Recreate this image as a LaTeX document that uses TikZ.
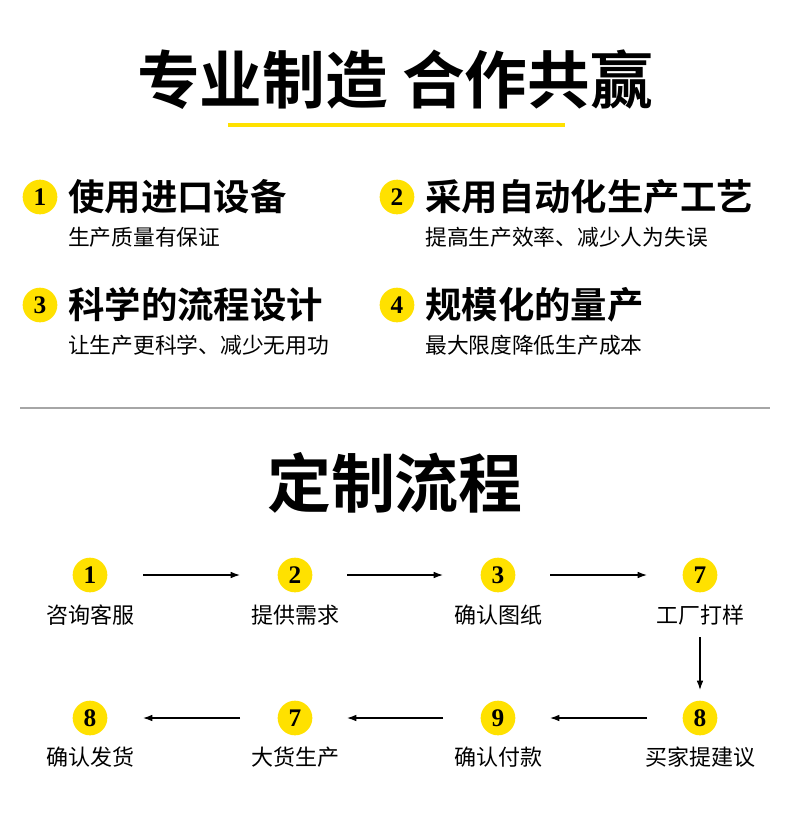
\documentclass[tikz,border=0pt]{standalone}
\usepackage{fontspec}
\usetikzlibrary{arrows.meta}
\setmainfont{Liberation Serif}
\newfontfamily\cjk{Noto Sans CJK SC}
\newfontfamily\cjkb{Noto Sans CJK SC}[BoldFont={* Bold}]
\definecolor{yel}{HTML}{FFE100}
\begin{document}
\begin{tikzpicture}[x=0.75pt,y=-0.75pt,
  num/.style={circle,fill=yel,minimum size=26pt,inner sep=0pt,font=\fontsize{19}{19}\selectfont\bfseries},
  head/.style={anchor=west,inner sep=0pt,font=\cjkb\bfseries\fontsize{27.3}{27}\selectfont},
  sub/.style={anchor=west,inner sep=0pt,font=\cjk\fontsize{16.3}{16}\selectfont},
  lab/.style={inner sep=0pt,font=\cjk\fontsize{16.5}{17}\selectfont},
  arr/.style={-{Latex[length=7pt,width=5pt]},line width=0.9pt}]
\useasboundingbox (0,0) rectangle (790,819);
\fill[white] (0,0) rectangle (790,819);
\node[inner sep=0pt,font=\cjkb\bfseries\fontsize{47}{47}\selectfont] (t1) at (395,80) {专业制造\ 合作共赢};
\draw[yel,line width=3pt] (228,125) -- (565,125);
% items
\foreach \n/\x/\y/\h/\s in {1/40/197/使用进口设备/生产质量有保证,
  2/397/197/采用自动化生产工艺/提高生产效率、减少人为失误,
  3/40/305/科学的流程设计/让生产更科学、减少无用功,
  4/397/305/规模化的量产/最大限度降低生产成本}{
  \node[num] (c\n) at (\x,\y) {\n};
  \node[head] (h\n) at (\x+28,\y) {\h};
  \node[sub] (s\n) at (\x+28,\y+40) {\s};
}
\draw[gray!70,line width=1pt] (20,408) -- (770,408);
\node[inner sep=0pt,font=\cjkb\bfseries\fontsize{48}{48}\selectfont] (t2) at (395,483) {定制流程};
% flow
\node[num] (a1) at (90,575) {1};  \node[lab] (la1) at (90,615) {咨询客服};
\node[num] (a2) at (295,575) {2}; \node[lab] (la2) at (295,615) {提供需求};
\node[num] (a3) at (498,575) {3}; \node[lab] (la3) at (498,615) {确认图纸};
\node[num] (a4) at (700,575) {7}; \node[lab] (la4) at (700,615) {工厂打样};
\node[num] (b4) at (700,718) {8}; \node[lab] (lb4) at (700,757) {买家提建议};
\node[num] (b3) at (498,718) {9}; \node[lab] (lb3) at (498,757) {确认付款};
\node[num] (b2) at (295,718) {7}; \node[lab] (lb2) at (295,757) {大货生产};
\node[num] (b1) at (90,718) {8};  \node[lab] (lb1) at (90,757) {确认发货};
\draw[arr] (a1) ++(53,0) -- ++(97,0);
\draw[arr] (a2) ++(52,0) -- ++(96,0);
\draw[arr] (a3) ++(52,0) -- ++(97,0);
\draw[arr] (la4) ++(0,22) -- ++(0,53);
\draw[arr] (b4) ++(-53,0) -- ++(-97,0);
\draw[arr] (b3) ++(-55,0) -- ++(-96,0);
\draw[arr] (b2) ++(-55,0) -- ++(-97,0);
\end{tikzpicture}
\end{document}
